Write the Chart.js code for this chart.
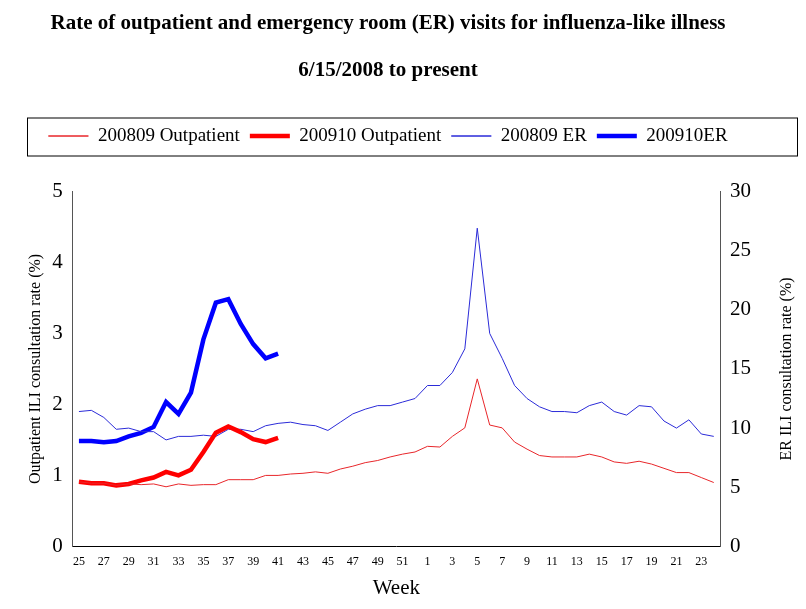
<!DOCTYPE html>
<html>
<head>
<meta charset="utf-8">
<script src="https://cdn.jsdelivr.net/npm/chart.js@4/dist/chart.umd.min.js"></script>
<style>
  body { margin: 0; background: #fff; }
  #wrap { width: 806px; height: 609px; }
</style>
</head>
<body>
<div id="wrap"><canvas id="c" width="806" height="609"></canvas></div>
<script>
// weeks 25..52 then 1..24
var weeks = [25,26,27,28,29,30,31,32,33,34,35,36,37,38,39,40,41,42,43,44,45,46,47,48,49,50,51,52,
             1,2,3,4,5,6,7,8,9,10,11,12,13,14,15,16,17,18,19,20,21,22,23,24];

var opd0809 = [0.91,0.89,0.89,0.86,0.88,0.87,0.88,0.84,0.88,0.86,0.87,0.87,0.94,0.94,0.94,1.00,1.00,1.02,1.03,1.05,1.03,1.09,1.13,1.18,1.21,1.26,1.30,1.33,
               1.41,1.40,1.55,1.67,2.36,1.71,1.67,1.47,1.37,1.28,1.26,1.26,1.26,1.30,1.26,1.19,1.17,1.20,1.16,1.10,1.04,1.04,0.97,0.90];
var opd0910 = [0.91,0.89,0.89,0.86,0.88,0.93,0.97,1.05,1.00,1.08,1.33,1.60,1.69,1.61,1.51,1.47,1.53];
var er0809 = [11.4,11.5,10.9,9.9,10.0,9.7,9.7,9.0,9.3,9.3,9.4,9.3,9.9,9.9,9.7,10.2,10.4,10.5,10.3,10.2,9.8,10.5,11.2,11.6,11.9,11.9,12.2,12.5,
              13.6,13.6,14.7,16.7,26.9,18.0,15.9,13.6,12.5,11.8,11.4,11.4,11.3,11.9,12.2,11.4,11.1,11.9,11.8,10.6,10.0,10.7,9.5,9.3];
var er0910 = [8.9,8.9,8.8,8.9,9.3,9.6,10.1,12.2,11.2,13.0,17.5,20.6,20.9,18.8,17.1,15.9,16.3];

var serif = "'Liberation Serif', 'Times New Roman', serif";

var legendBox = {
  id: 'legendBox',
  beforeLayout: function(chart) {
    var lg = chart.legend;
    if (lg && !lg._patched) {
      var fit = lg.fit;
      lg.fit = function() { fit.apply(this, arguments); this.height += 36; };
      lg._patched = true;
    }
  },
  afterDraw: function(chart) {
    var ctx = chart.ctx, lg = chart.legend;
    ctx.save();
    ctx.strokeStyle = '#000';
    ctx.lineWidth = 1;
    ctx.strokeRect(27.5, lg.top + 1.5, 770, 38);
    // right axis title, reading bottom to top
    var ya = chart.scales.y1;
    ctx.translate(787, (ya.top + ya.bottom) / 2);
    ctx.rotate(-Math.PI / 2);
    ctx.font = '16px ' + serif;
    ctx.fillStyle = '#000';
    ctx.textAlign = 'center';
    ctx.textBaseline = 'middle';
    ctx.fillText('ER ILI consultation rate (%)', 0, 0);
    ctx.restore();
  }
};

new Chart(document.getElementById('c').getContext('2d'), {
  type: 'line',
  data: {
    labels: weeks,
    datasets: [
      { label: '200809 Outpatient', data: opd0809, borderColor: '#e8262a', borderWidth: 1, yAxisID: 'y' },
      { label: '200910 Outpatient', data: opd0910, borderColor: '#ff0000', borderWidth: 4.5, yAxisID: 'y' },
      { label: '200809 ER', data: er0809, borderColor: '#2b2bd8', borderWidth: 1, yAxisID: 'y1' },
      { label: '200910ER', data: er0910, borderColor: '#0000ff', borderWidth: 4.5, yAxisID: 'y1' }
    ]
  },
  options: {
    responsive: false,
    animation: false,
    elements: { point: { radius: 0 }, line: { tension: 0 } },
    layout: { padding: { left: 22, right: 52, bottom: 4, top: 0 } },
    plugins: {
      title: {
        display: true,
        text: ['Rate of outpatient and emergency room (ER) visits for influenza-like illness', '6/15/2008 to present'],
        font: { family: serif, size: 21, weight: 'bold', lineHeight: 2.25 },
        color: '#000',
        padding: { top: 0, bottom: 22 }
      },
      legend: {
        labels: {
          font: { family: serif, size: 19 },
          color: '#000',
          boxWidth: 40,
          boxHeight: 0,
          padding: 10,
          generateLabels: function(chart) {
            return chart.data.datasets.map(function(d, i) {
              return { text: d.label, strokeStyle: d.borderColor, fillStyle: d.borderColor,
                       lineWidth: d.borderWidth, datasetIndex: i, fontColor: '#000' };
            });
          }
        }
      },
      tooltip: { enabled: false }
    },
    scales: {
      x: {
        offset: true,
        grid: { display: false, drawTicks: true, tickLength: 5 },
        border: { color: '#000' },
        ticks: {
          autoSkip: false, maxRotation: 0, color: '#000',
          font: { family: serif, size: 12 },
          callback: function(v, i) { return i % 2 === 0 ? weeks[i] : ''; }
        },
        title: { display: true, text: 'Week', color: '#000', font: { family: serif, size: 21 }, padding: { top: 4 } }
      },
      y: {
        position: 'left', min: 0, max: 5,
        grid: { display: false, drawTicks: true, tickLength: 7 },
        border: { color: '#555' },
        ticks: { stepSize: 1, color: '#000', font: { family: serif, size: 21 } },
        title: { display: true, text: 'Outpatient ILI consultation rate (%)', color: '#000', font: { family: serif, size: 16 } }
      },
      y1: {
        position: 'right', min: 0, max: 30,
        grid: { display: false, drawTicks: true, tickLength: 7 },
        border: { color: '#555' },
        ticks: { stepSize: 5, color: '#000', font: { family: serif, size: 21 } }
      }
    }
  },
  plugins: [legendBox]
});
</script>
</body>
</html>
